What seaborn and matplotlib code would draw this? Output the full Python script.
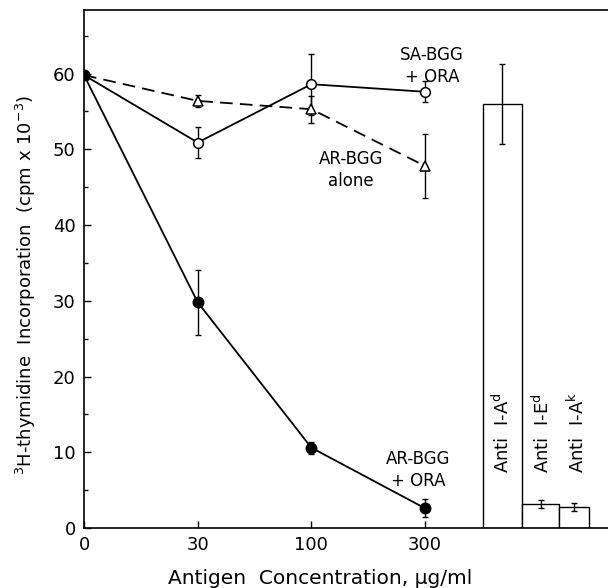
import matplotlib
matplotlib.use("Agg")
import matplotlib.pyplot as plt
import seaborn as sns
import numpy as np
import pandas as pd

# ---- data ----
conc_labels = ["0", "30", "100", "300"]
sa_ora = [59.8, 50.9, 58.6, 57.6]
sa_ora_err = [0.0, 2.1, 4.0, 1.4]
ar_alone = [59.8, 56.4, 55.3, 47.8]
ar_alone_err = [0.0, 0.8, 1.8, 4.2]
ar_ora = [59.8, 29.8, 10.6, 2.6]
ar_ora_err = [0.0, 4.3, 0.8, 1.2]

bar_labels = ["Anti  I-A$^{\\mathrm{d}}$", "Anti  I-E$^{\\mathrm{d}}$", "Anti  I-A$^{\\mathrm{k}}$"]
bar_values = [56.0, 3.2, 2.8]
bar_err = [5.3, 0.5, 0.5]

sns.set_style("ticks")
plt.rcParams["font.family"] = ["DejaVu Sans"]
plt.rcParams["text.color"] = "black"
plt.rcParams["axes.labelcolor"] = "black"
plt.rcParams["xtick.color"] = "black"
plt.rcParams["ytick.color"] = "black"

fig = plt.figure(figsize=(6.08, 5.88), dpi=100)
ax = fig.add_axes([84/608, 60/588, 524/608, 518/588])

xpos = np.arange(len(conc_labels))
df = pd.DataFrame({
    "x": np.tile(xpos, 3),
    "y": sa_ora + ar_alone + ar_ora,
    "series": ["SA-BGG + ORA"]*4 + ["AR-BGG alone"]*4 + ["AR-BGG + ORA"]*4,
})

styles = {
    "SA-BGG + ORA": dict(ls="-", marker="o", ms=7, mfc="white", err=sa_ora_err),
    "AR-BGG alone": dict(ls=(0, (7, 4)), marker="^", ms=6.5, mfc="white", err=ar_alone_err),
    "AR-BGG + ORA": dict(ls="-", marker="o", ms=7.5, mfc="black", err=ar_ora_err),
}
for name, st in styles.items():
    d = df[df.series == name]
    sns.lineplot(data=d, x="x", y="y", ax=ax, color="black", lw=1.3,
                 linestyle=st["ls"], marker=st["marker"], markersize=st["ms"],
                 markerfacecolor=st["mfc"], markeredgecolor="black", markeredgewidth=1.1,
                 legend=False, errorbar=None, zorder=3)
    e = np.array(st["err"])
    m = e > 0
    ax.errorbar(d["x"].values[m], d["y"].values[m], yerr=e[m], fmt="none",
                ecolor="black", elinewidth=1.0, capsize=2.2, capthick=1.0, zorder=2)

# bars
bar_x = [3.68, 4.015, 4.31]
bar_w = [0.34, 0.33, 0.27]
ax.bar(bar_x, bar_values, width=bar_w, color="white", edgecolor="black", linewidth=1.0, zorder=1)
ax.errorbar(bar_x, bar_values, yerr=bar_err, fmt="none", ecolor="black",
            elinewidth=1.0, capsize=2.2, capthick=1.0, zorder=2)

label_x = [3.68, 4.03, 4.34]
for lx, lab in zip(label_x, bar_labels):
    ax.text(lx, 7.3, lab, rotation=90, ha="center", va="bottom", fontsize=13, color="black")

# series labels
ax.text(3.06, 61.0, "SA-BGG\n+ ORA", ha="center", va="center", fontsize=12, linespacing=1.3, color="black")
ax.text(2.35, 47.3, "AR-BGG\nalone", ha="center", va="center", fontsize=12, linespacing=1.3, color="black")
ax.text(2.94, 7.7, "AR-BGG\n+ ORA", ha="center", va="center", fontsize=12, linespacing=1.3, color="black")

ax.set_xlim(0, 524/113.7)
ax.set_ylim(0, 68.4)
ax.set_xticks(xpos)
ax.set_xticklabels(conc_labels)
ax.set_yticks(np.arange(0, 61, 10))
ax.set_yticks([5, 15, 25, 35, 45, 55, 65], minor=True)
ax.tick_params(axis="both", direction="in", length=5, width=1, labelsize=13, pad=6, colors="black")
ax.tick_params(axis="y", which="minor", direction="in", length=3, width=1, colors="black")
ax.set_xlabel("")
ax.set_ylabel("$^{3}$H-thymidine  Incorporation  (cpm x 10$^{-3}$)", fontsize=13, color="black")
ax.yaxis.set_label_coords(-0.088, 0.47)
fig.text(320/608, 10/588, "Antigen  Concentration, \u03bcg/ml", ha="center", va="center",
         fontsize=14.5, color="black")

for s in ["left", "top", "bottom"]:
    ax.spines[s].set_visible(True)
    ax.spines[s].set_linewidth(1.2)
    ax.spines[s].set_color("black")
ax.spines["right"].set_visible(False)

fig.savefig("out.png", dpi=100)
